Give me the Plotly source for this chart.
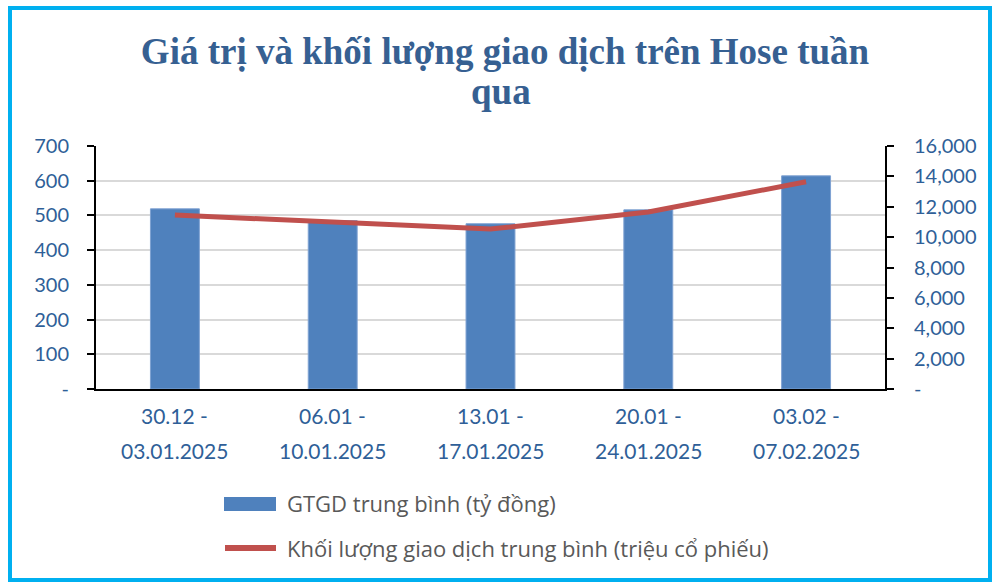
import plotly.graph_objects as go

categories = ["30.12 -<br>03.01.2025", "06.01 -<br>10.01.2025", "13.01 -<br>17.01.2025",
              "20.01 -<br>24.01.2025", "03.02 -<br>07.02.2025"]
gtgd = [519, 485, 476, 516, 614]
klgd = [11450, 11000, 10530, 11650, 13650]
left_ticks = [0, 100, 200, 300, 400, 500, 600, 700]
left_labels = ["-", "100", "200", "300", "400", "500", "600", "700"]
right_ticks = [0, 2000, 4000, 6000, 8000, 10000, 12000, 14000, 16000]
right_labels = ["-", "2,000", "4,000", "6,000", "8,000", "10,000", "12,000", "14,000", "16,000"]
title_lines = ["Giá trị và khối lượng giao dịch trên Hose tuần", "qua"]
bar_name = "GTGD trung bình (tỷ đồng)"
line_name = "Khối lượng giao dịch trung bình (triệu cổ phiếu)"

TXT = "#2F5F98"
BAR_C = "#4F81BD"
LINE_C = "#C0504D"
fig = go.Figure()
fig.add_trace(go.Bar(x=categories, y=gtgd, name=bar_name,
                     marker=dict(color=BAR_C, line=dict(color="#7FA2D2", width=1)),
                     width=0.31, showlegend=False))
fig.add_trace(go.Scatter(x=categories, y=klgd, name=line_name,
                         mode="lines", line=dict(color=LINE_C, width=5), yaxis="y2",
                         showlegend=False))

L, R, T, B = 96, 110, 146, 194
W, H = 995 - L - R, 583 - T - B

def px(x):
    return (x - L) / W

def py(y):
    return (583 - B - y) / H

annotations = []
for c in categories:
    top, bottom = c.split("<br>")
    annotations.append(dict(x=c, xref="x", y=py(415), yref="paper", text=top,
                            showarrow=False, xanchor="center", yanchor="middle",
                            font=dict(family="Lato", size=21, color=TXT)))
    annotations.append(dict(x=c, xref="x", y=py(450), yref="paper", text=bottom,
                            showarrow=False, xanchor="center", yanchor="middle",
                            font=dict(family="Lato", size=21, color=TXT)))

# second title line
annotations.append(dict(x=px(501), y=py(92), xref="paper", yref="paper",
                        text="<b>" + title_lines[1] + "</b>", showarrow=False,
                        xanchor="center", yanchor="middle",
                        font=dict(family="Liberation Serif", size=37, color="#366092")))

# legend texts
LEG_FONT = dict(family="Open Sans", size=22, color="#595959")
annotations.append(dict(x=px(285), y=py(503), xref="paper", yref="paper", text=bar_name,
                        showarrow=False, xanchor="left", yanchor="middle", font=LEG_FONT))
annotations.append(dict(x=px(285), y=py(548), xref="paper", yref="paper", text=line_name,
                        showarrow=False, xanchor="left", yanchor="middle", font=LEG_FONT))

shapes = [
    dict(type="rect", xref="paper", yref="paper",
         x0=px(10), x1=px(990), y0=py(580), y1=py(8),
         line=dict(color="#00B0F0", width=4), layer="below"),
    dict(type="rect", xref="paper", yref="paper",
         x0=px(224), x1=px(276), y0=py(511), y1=py(497),
         line=dict(width=0), fillcolor=BAR_C),
    dict(type="line", xref="paper", yref="paper",
         x0=px(225), x1=px(276), y0=py(548), y1=py(548),
         line=dict(color=LINE_C, width=6)),
]

fig.update_layout(
    width=995, height=583,
    margin=dict(l=L, r=R, t=T, b=B),
    paper_bgcolor="white", plot_bgcolor="white",
    title=dict(text="<b>" + title_lines[0] + "</b>",
               x=px(505), xanchor="center", y=1 - 51 / 583, yanchor="middle",
               xref="paper",
               font=dict(family="Liberation Serif", size=37, color="#366092")),
    font=dict(family="Lato", size=20, color=TXT),
    showlegend=False,
    xaxis=dict(showline=True, linecolor="black", linewidth=2, ticks="",
               showticklabels=False, showgrid=False),
    yaxis=dict(range=[0, 700], tickvals=left_ticks, ticktext=left_labels,
               showline=True, linecolor="black", linewidth=2, ticks="outside",
               ticklen=7, tickcolor="black", tickwidth=2,
               gridcolor="#D9D9D9", gridwidth=2, zeroline=False,
               ticklabelstandoff=14,
               tickfont=dict(size=20, color=TXT)),
    yaxis2=dict(range=[0, 16000], tickvals=right_ticks, ticktext=right_labels,
                overlaying="y", side="right", showline=True, linecolor="black",
                linewidth=2, ticks="outside", ticklen=7, tickcolor="black", tickwidth=2,
                ticklabelstandoff=16,
                showgrid=False, zeroline=False, tickfont=dict(size=20, color=TXT)),
    annotations=annotations,
    shapes=shapes,
)

fig.write_html("out.html")
